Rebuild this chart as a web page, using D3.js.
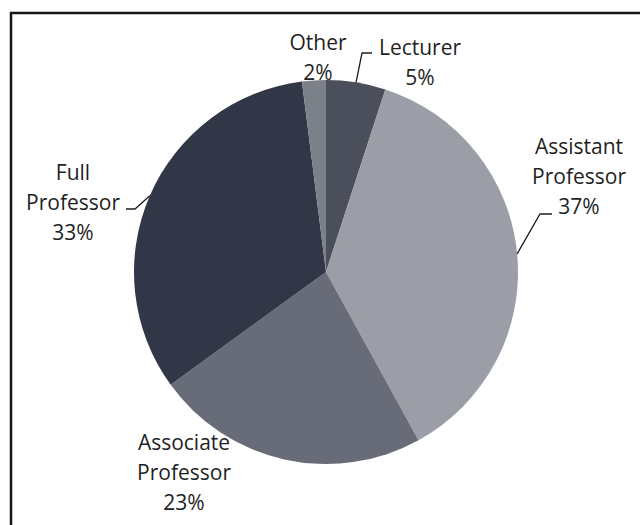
<!DOCTYPE html>
<html>
<head>
<meta charset="utf-8">
<script src="https://cdn.jsdelivr.net/npm/d3@7"></script>
<style>
  html, body { margin: 0; padding: 0; background: #ffffff; }
  svg { display: block; }
  text { font-family: "Open Sans", Lato, sans-serif; fill: #1f1f1f; }
</style>
</head>
<body>
<svg id="chart" width="640" height="525"></svg>
<script>
// Faculty rank distribution (percent), clockwise from 12 o'clock
const categories = ["Lecturer", "Assistant Professor", "Associate Professor", "Full Professor", "Other"];
const shares = [5, 37, 23, 33, 2];
const labelLines = [
  ["Lecturer", "5%"],
  ["Assistant", "Professor", "37%"],
  ["Associate", "Professor", "23%"],
  ["Full", "Professor", "33%"],
  ["Other", "2%"]
];

// Slice fills, greyscale-blue palette
const fills = ["#4a4f5b", "#9b9ea6", "#686c78", "#323748", "#7c8089"];

// Label placement: block centre x, first line centre y, and optional leader elbow/end
const labelLayout = {
  "Lecturer":            { x: 420, y: 47,  leader: { elbow: [362, 53], end: [372, 53] } },
  "Assistant Professor": { x: 579, y: 146, leader: { elbow: [540, 214], end: [552, 214] } },
  "Associate Professor": { x: 184, y: 442, leader: null },
  "Full Professor":      { x: 73,  y: 172, leader: { elbow: [135, 209], end: [126, 209] } },
  "Other":               { x: 318, y: 42,  leader: null }
};

const cx = 326, cy = 272, radius = 192;
const lineGap = 30;

const svg = d3.select("#chart");

// Frame around the chart area
svg.append("rect")
  .attr("x", 11).attr("y", 13)
  .attr("width", 660).attr("height", 540)
  .attr("fill", "none")
  .attr("stroke", "#151515")
  .attr("stroke-width", 2.5);

const data = categories.map((c, i) => ({ category: c, value: shares[i], lines: labelLines[i], fill: fills[i] }));

const pie = d3.pie().value(d => d.value).sort(null);
const arc = d3.arc().innerRadius(0).outerRadius(radius);
const arcs = pie(data);

const g = svg.append("g").attr("transform", `translate(${cx},${cy})`);

g.selectAll("path.slice")
  .data(arcs)
  .join("path")
  .attr("class", "slice")
  .attr("d", arc)
  .attr("fill", d => d.data.fill);

// Leader lines start on the rim at each slice's mid-angle
const leaders = svg.append("g");
arcs.forEach(a => {
  const lay = labelLayout[a.data.category];
  if (!lay.leader) return;
  const mid = (a.startAngle + a.endAngle) / 2;
  const rim = [cx + radius * Math.sin(mid), cy - radius * Math.cos(mid)];
  leaders.append("path")
    .attr("d", d3.line()([rim, lay.leader.elbow, lay.leader.end]))
    .attr("fill", "none")
    .attr("stroke", "#1e1e1e")
    .attr("stroke-width", 1.3);
});

// Category labels
const labels = svg.append("g");
arcs.forEach(a => {
  const lay = labelLayout[a.data.category];
  const t = labels.append("text")
    .attr("text-anchor", "middle")
    .attr("font-size", 21);
  a.data.lines.forEach((line, i) => {
    t.append("tspan")
      .attr("x", lay.x)
      .attr("y", lay.y + i * lineGap + 7.5)
      .text(line);
  });
});
</script>
</body>
</html>
